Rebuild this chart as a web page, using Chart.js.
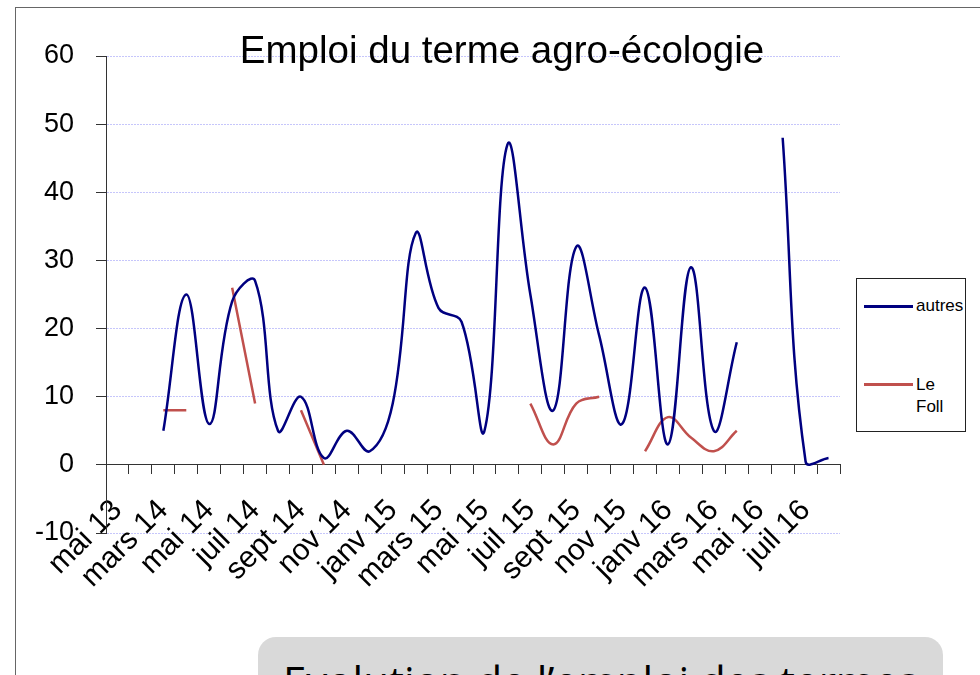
<!DOCTYPE html>
<html>
<head>
<meta charset="utf-8">
<script src="https://cdn.jsdelivr.net/npm/chart.js@4.4.1/dist/chart.umd.min.js"></script>
<style>
  html, body { margin: 0; padding: 0; background: #fff; overflow: hidden; }
  #wrap { position: relative; width: 980px; height: 675px; overflow: hidden; }
  #frame { position: absolute; left: 15px; top: 7px; width: 1000px; height: 700px;
           border-top: 1px solid #666; border-left: 1px solid #666; }
  #chart { position: absolute; left: 0; top: 0; }
  #legend { position: absolute; left: 856px; top: 278px; width: 108px; height: 152px;
            border: 1px solid #222; background: #fff;
            font: 17px "Liberation Sans", Arial, sans-serif; color: #000; }
  #legend .sw { position: absolute; left: 7px; width: 49px; height: 3px; }
  #legend .lb { position: absolute; left: 59px; line-height: 22px; }
  #note { position: absolute; left: 258px; top: 637px; width: 685px; height: 80px;
          background: #d9d9d9; border-radius: 18px; }
  #note span { position: absolute; left: 25px; top: 15px; line-height: 1;
               font: 42px "Open Sans", sans-serif; color: #000; white-space: nowrap; }
</style>
</head>
<body>
<div id="wrap">
  <div id="frame"></div>
  <canvas id="chart" width="980" height="675"></canvas>
  <div id="legend">
    <div class="sw" style="top:26px;background:#000080"></div>
    <div class="lb" style="top:16px">autres</div>
    <div class="sw" style="top:104px;background:#c0504d"></div>
    <div class="lb" style="top:95px">Le<br>Foll</div>
  </div>
  <div id="note"><span>Evolution de l’emploi des termes</span></div>
</div>
<script>
// months, one category per month shown on the axis (every second one labelled)
const categories = ['mai 13', 'févr 14', 'mars 14', 'avr 14', 'mai 14', 'juin 14', 'juil 14', 'août 14',
  'sept 14', 'oct 14', 'nov 14', 'déc 14', 'janv 15', 'févr 15', 'mars 15', 'avr 15',
  'mai 15', 'juin 15', 'juil 15', 'août 15', 'sept 15', 'oct 15', 'nov 15', 'déc 15',
  'janv 16', 'févr 16', 'mars 16', 'avr 16', 'mai 16', 'juin 16', 'juil 16', 'août 16'];

const autres = [null, null, 5, 25, 6, 24, 27, 5, 10, 1, 5, 2, 9, 34, 23, 21,
  5, 47, 25, 8, 32, 19, 6, 26, 3, 29, 5, 18, null, 48, 0.5, 1];

const leFoll = [null, null, 8, 8, null, 26, 9, null, 8, 0, null, null, null, null, null, null,
  null, null, 9, 3, 9, 10, null, 2, 7, 4, 2, 5, null, null, null, null];

const yTicks = { min: -10, max: 60, step: 10 };
const chartTitle = 'Emploi du terme agro-écologie';

const FONT = '"Liberation Sans", Arial, sans-serif';

const titlePlugin = {
  id: 'insideTitle',
  afterDraw(chart) {
    const ctx = chart.ctx;
    ctx.save();
    ctx.font = '38.5px ' + FONT;
    ctx.fillStyle = '#000';
    ctx.textAlign = 'center';
    ctx.textBaseline = 'alphabetic';
    ctx.fillText(chartTitle, 502, 63);
    ctx.restore();
  }
};

new Chart(document.getElementById('chart'), {
  type: 'line',
  data: {
    labels: categories,
    datasets: [
      { label: 'autres', data: autres, borderColor: '#000080', borderWidth: 2.5,
        pointRadius: 0, tension: 0.4, fill: false, spanGaps: false },
      { label: 'Le Foll', data: leFoll, borderColor: '#c0504d', borderWidth: 2.5,
        pointRadius: 0, tension: 0.4, fill: false, spanGaps: false }
    ]
  },
  options: {
    responsive: false,
    animation: false,
    layout: { padding: { left: 0, top: 56, right: 140, bottom: 142 } },
    plugins: { legend: { display: false }, tooltip: { enabled: false }, title: { display: false } },
    scales: {
      x: {
        type: 'category',
        position: { y: 0 },
        offset: true,
        grid: { offset: true, drawOnChartArea: false, tickLength: 9, tickColor: '#333', tickWidth: 1 },
        border: { display: true, color: '#333', width: 1 },
        ticks: {
          autoSkip: false, minRotation: 45, maxRotation: 45, padding: 19,
          color: '#000', font: { family: FONT, size: 30 },
          callback: (v, i) => (i % 2 === 0 ? categories[i] : '')
        },
        afterFit: s => { s.height = 0; }
      },
      y: {
        min: yTicks.min, max: yTicks.max,
        ticks: { stepSize: yTicks.step, padding: 22, color: '#000', font: { family: FONT, size: 27 } },
        grid: { color: '#c6c6fb', lineWidth: 1, tickLength: 10, tickColor: '#333', tickBorderDash: [] },
        border: { display: true, color: '#333', width: 1, dash: [2, 1] },
        afterFit: s => { s.width = 106; }
      }
    }
  },
  plugins: [titlePlugin]
});
</script>
</body>
</html>
